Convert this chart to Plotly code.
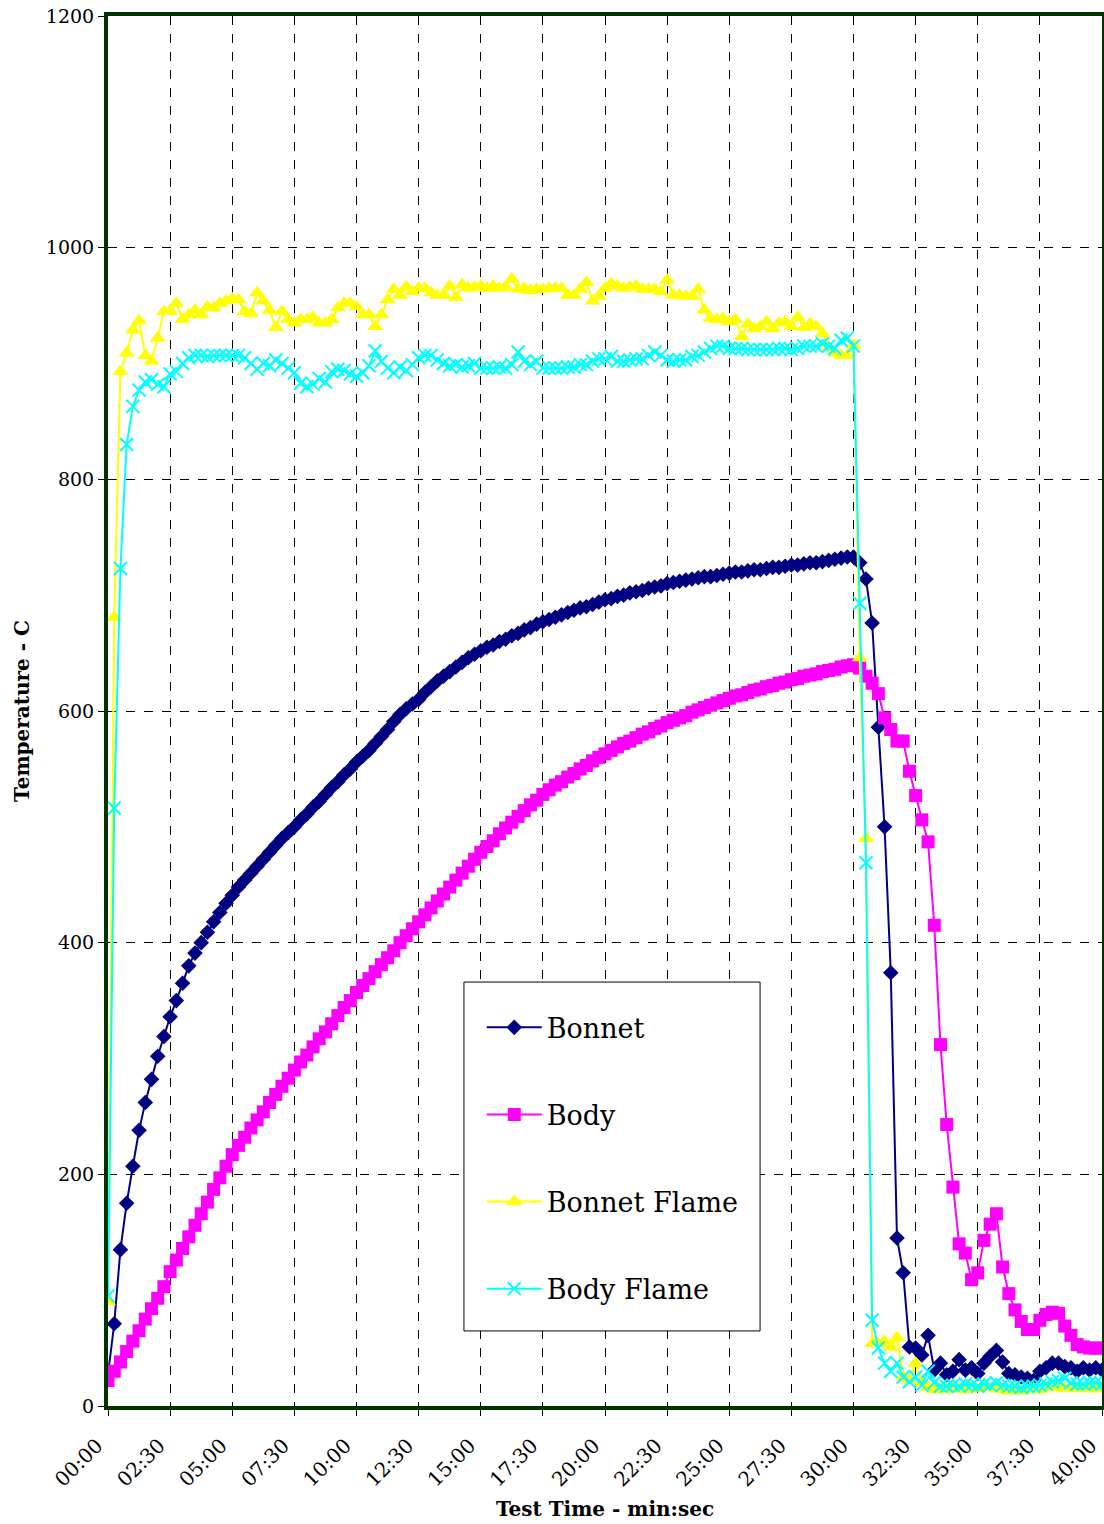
import plotly.graph_objects as go

# Sample interval 15 s, 00:00 .. 40:00
tick_labels = ["00:00", "02:30", "05:00", "07:30", "10:00", "12:30", "15:00", "17:30",
               "20:00", "22:30", "25:00", "27:30", "30:00", "32:30", "35:00", "37:30", "40:00"]
tick_seconds = [0, 150, 300, 450, 600, 750, 900, 1050, 1200, 1350, 1500, 1650, 1800,
                1950, 2100, 2250, 2400]

bonnet = [27, 71, 135, 175, 207, 238, 262, 282, 302, 319, 336, 350, 365, 380, 391, 400,
          409, 418, 426, 434, 441, 448, 454, 460, 466, 472, 478, 484, 490, 495, 500,
          506, 511, 517, 522, 528, 534, 539, 545, 550, 556, 561, 566, 572, 578, 584, 591,
          597, 602, 606, 610, 616, 621, 626, 630, 634, 638, 642, 646, 649, 652, 655, 657,
          660, 662, 665, 667, 670, 672, 675, 677, 679, 681, 683, 685, 687, 689, 690, 692,
          694, 696, 697, 699, 700, 702, 703, 704, 706, 707, 708, 710, 711, 712, 713, 714,
          715, 716, 716, 717, 718, 719, 720, 720, 721, 722, 722, 723, 724, 724, 725, 726,
          726, 727, 728, 728, 729, 730, 731, 732, 733, 733, 728, 714, 676, 586, 500, 374,
          145, 115, 51, 50, 44, 61, 31, 37, 27, 30, 40, 31, 33, 28, 37, 43, 48, 38, 28, 27,
          25, 24, 22, 30, 33, 37, 37, 34, 33, 30, 33, 31, 33, 31]

body = [22, 30, 38, 47, 56, 65, 75, 84, 93, 103, 116, 126, 136, 146, 156, 166, 176, 187,
        197, 207, 217, 225, 232, 240, 247, 254, 262, 269, 276, 283, 290, 297, 303, 310,
        317, 323, 330, 337, 344, 350, 357, 363, 369, 375, 381, 387, 393, 400, 406, 412,
        418, 424, 430, 436, 442, 448, 454, 460, 466, 472, 478, 483, 488, 494, 499, 504,
        509, 514, 519, 523, 528, 532, 536, 539, 543, 546, 550, 553, 557, 560, 563, 566,
        569, 572, 574, 577, 580, 582, 585, 587, 590, 592, 594, 596, 599, 601, 603, 605,
        607, 609, 611, 613, 614, 616, 618, 619, 621, 622, 624, 625, 627, 628, 630, 631,
        632, 634, 635, 636, 638, 639, 640, 637, 630, 624, 615, 594, 584, 574, 574, 548,
        527, 506, 487, 415, 312, 243, 189, 140, 132, 109, 115, 143, 157, 166, 120, 97,
        83, 73, 66, 66, 74, 79, 81, 80, 69, 61, 53, 51, 50, 50, 50]

bonnet_flame = [90, 681, 893, 909, 929, 937, 907, 902, 922, 945, 945, 952, 938, 942, 946,
                942, 949, 948, 952, 954, 956, 955, 945, 943, 961, 954, 946, 931, 945, 938,
                935, 938, 938, 940, 935, 935, 938, 948, 952, 952, 949, 942, 942, 932, 942,
                955, 964, 959, 966, 962, 965, 965, 961, 959, 959, 967, 957, 968, 965, 966,
                967, 965, 967, 965, 966, 973, 964, 965, 963, 964, 964, 965, 965, 965, 959,
                959, 964, 970, 954, 958, 965, 969, 967, 965, 966, 967, 964, 964, 964, 962,
                972, 959, 959, 958, 958, 964, 946, 939, 938, 939, 936, 938, 923, 934, 930,
                932, 936, 930, 935, 936, 932, 940, 931, 934, 932, 926, 914, 909, 907, 907,
                916, 646, 490, 54, 54, 56, 51, 59, 25, 22, 37, 20, 16, 14, 15, 14, 16, 15,
                14, 16, 15, 17, 16, 15, 14, 13, 14, 13, 14, 15, 14, 16, 17, 16, 15, 16, 15,
                16, 15, 15, 15]

body_flame = [95, 516, 723, 830, 863, 877, 884, 886, 882, 880, 891, 893, 900, 905, 907,
              907, 906, 907, 907, 907, 907, 907, 905, 900, 895, 900, 898, 903, 900, 896,
              892, 883, 880, 882, 887, 884, 893, 895, 894, 891, 889, 892, 898, 911, 902,
              896, 892, 897, 894, 899, 905, 907, 907, 903, 900, 898, 899, 897, 898, 900,
              896, 896, 896, 897, 896, 899, 910, 902, 899, 902, 896, 896, 896, 896, 897,
              897, 899, 899, 902, 904, 904, 906, 902, 902, 903, 904, 904, 907, 910, 907,
              903, 902, 903, 903, 906, 907, 910, 913, 915, 915, 913, 913, 913, 912, 912,
              912, 912, 912, 913, 913, 912, 913, 915, 915, 915, 917, 915, 913, 920, 922,
              915, 693, 469, 74, 50, 37, 30, 37, 25, 21, 25, 18, 30, 20, 17, 17, 18, 17,
              19, 18, 17, 19, 18, 20, 18, 17, 17, 16, 17, 17, 18, 19, 21, 22, 24, 20, 19,
              19, 20, 20, 19]

times = [15 * i for i in range(len(bonnet))]

FONT = "DejaVu Serif, Liberation Serif, serif"

fig = go.Figure()
fig.add_trace(go.Scatter(x=times, y=bonnet, name="Bonnet", mode="lines+markers",
                         line=dict(color="#000080", width=2),
                         marker=dict(symbol="diamond", size=12, color="#000080"),
                         legendgroup="a"))
fig.add_trace(go.Scatter(x=times, y=body, name="Body", mode="lines+markers",
                         line=dict(color="#FF00FF", width=2),
                         marker=dict(symbol="square", size=13, color="#FF00FF"),
                         legendgroup="b"))
fig.add_trace(go.Scatter(x=times, y=bonnet_flame, name="Bonnet Flame", mode="lines+markers",
                         line=dict(color="#FFFF00", width=2),
                         marker=dict(symbol="triangle-up", size=14, color="#FFFF00"),
                         legendgroup="c"))
fig.add_trace(go.Scatter(x=times, y=body_flame, name="Body Flame", mode="lines+markers",
                         line=dict(color="#00FFFF", width=2),
                         marker=dict(symbol="x-thin", size=13, color="#00FFFF",
                                     line=dict(color="#00FFFF", width=2)),
                         legendgroup="d"))

# legend frame
fig.add_shape(type="rect", xref="paper", yref="paper",
              x0=0.3581, x1=0.656, y0=0.054, y1=0.305,
              line=dict(color="black", width=1), fillcolor="white", layer="above")

fig.update_layout(
    width=1104, height=1524,
    margin=dict(l=108, r=2, t=16, b=118),
    paper_bgcolor="white", plot_bgcolor="white",
    font=dict(family=FONT, color="black", size=19),
    showlegend=True,
    legend=dict(x=0.376, y=0.2897, xanchor="left", yanchor="top",
                bgcolor="rgba(0,0,0,0)", borderwidth=0,
                font=dict(family=FONT, size=27, color="black"),
                tracegroupgap=49, itemwidth=55),
)

fig.update_xaxes(range=[0, 2400], tickmode="array", tickvals=tick_seconds, ticktext=tick_labels,
                 tickangle=-45, ticks="outside", ticklen=6, tickcolor="black",
                 ticklabeloverflow="allow", ticklabelstandoff=10, ticklabelshift=-11,
                 showgrid=True, gridcolor="black", griddash="dash", gridwidth=1,
                 showline=True, linecolor="#003300", linewidth=4, mirror=True,
                 zeroline=False, automargin=False,
                 title=dict(text="<b>Test Time - min:sec</b>", font=dict(family=FONT, size=20),
                            standoff=13),
                 tickfont=dict(family=FONT, size=20))
fig.update_yaxes(range=[0, 1200], dtick=200, tick0=0,
                 ticks="outside", ticklen=6, tickcolor="black",
                 ticklabeloverflow="allow",
                 showgrid=True, gridcolor="black", griddash="dash", gridwidth=1,
                 showline=True, linecolor="#003300", linewidth=4, mirror=True,
                 zeroline=False, automargin=False,
                 title=dict(text="<b>Temperature - C</b>", font=dict(family=FONT, size=20),
                            standoff=12),
                 tickfont=dict(family=FONT, size=19))

fig.write_html("out.html",
               config={"displayModeBar": False},
               post_script="document.body.style.margin='0';"
                           "document.body.style.overflow='hidden';")
